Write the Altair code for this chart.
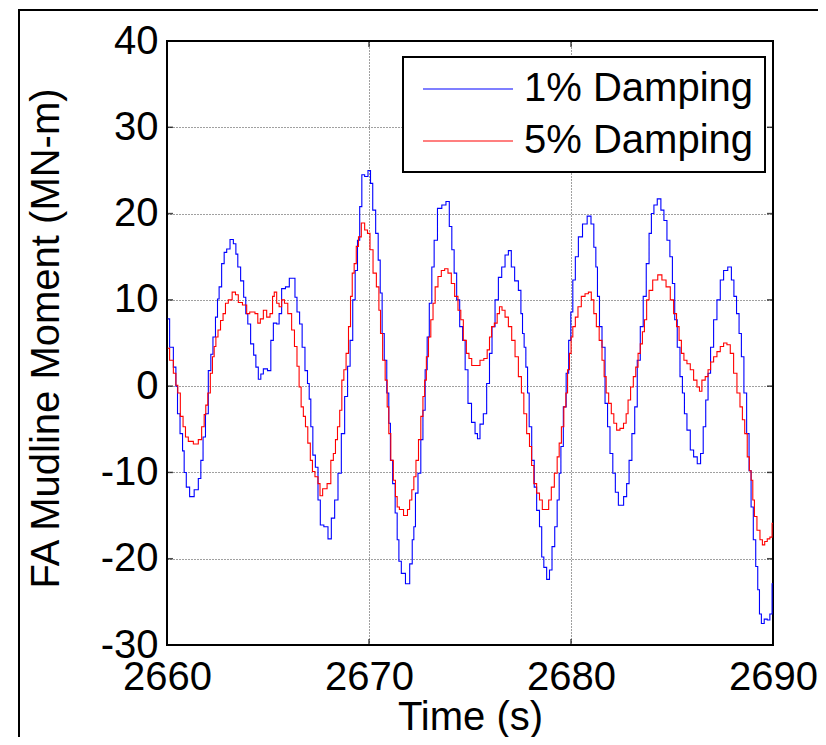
import altair as alt
import pandas as pd

# ---- data ----
t_1pct = [2660.03,2660.23,2660.40,2660.48,2660.56,2660.73,2660.81,2660.89,2661.02,2661.22,2661.47,2661.63,2661.72,2661.85,2661.96,2662.13,2662.21,2662.34,2662.46,2662.54,2662.62,2662.79,2662.87,2663.04,2663.20,2663.37,2663.45,2663.56,2663.73,2663.86,2663.94,2664.06,2664.22,2664.36,2664.44,2664.60,2664.69,2664.85,2665.10,2665.18,2665.35,2665.51,2665.59,2665.76,2665.97,2666.14,2666.30,2666.37,2666.50,2666.63,2666.75,2666.91,2667.00,2667.08,2667.16,2667.28,2667.41,2667.54,
          2667.64,2667.89,2668.05,2668.22,2668.38,2668.55,2668.71,2668.88,2669.00,2669.13,2669.26,2669.37,2669.49,2669.59,2669.70,2669.87,2670.03,2670.12,2670.25,2670.41,2670.50,2670.61,2670.69,2670.82,2670.94,2671.02,2671.10,2671.24,2671.35,2671.44,2671.52,2671.68,2671.93,2672.10,2672.18,2672.26,2672.34,2672.51,2672.62,2672.72,2672.84,2672.92,2673.05,2673.17,2673.28,2673.50,2673.71,2673.91,2674.04,2674.16,2674.27,2674.41,2674.57,2674.70,2674.82,2674.98,
          2675.17,2675.33,2675.41,2675.58,2675.74,2675.91,2676.02,2676.16,2676.32,2676.49,2676.65,2676.82,2676.98,2677.11,2677.31,2677.48,2677.56,2677.64,2677.72,2677.81,2677.89,2677.97,2678.14,2678.22,2678.38,2678.50,2678.60,2678.71,2678.88,2678.99,2679.13,2679.26,2679.37,2679.46,2679.54,2679.70,2679.82,2679.95,2680.03,2680.15,2680.28,2680.45,2680.69,2680.91,2681.07,2681.19,2681.27,2681.35,2681.47,2681.60,2681.77,2681.85,2682.01,2682.13,2682.26,2682.43,
          2682.52,2682.69,2682.82,2682.93,2683.10,2683.21,2683.35,2683.51,2683.64,2683.81,2683.92,2684.04,2684.17,2684.37,2684.53,2684.67,2684.83,2684.96,2685.08,2685.19,2685.33,2685.46,2685.57,2685.66,2685.82,2685.99,2686.15,2686.35,2686.48,2686.61,2686.73,2686.84,2686.98,2687.14,2687.31,2687.47,2687.64,2687.88,2688.00,2688.13,2688.26,2688.38,2688.49,2688.63,2688.76,2688.87,2688.96,2689.09,2689.20,2689.29,2689.37,2689.48,2689.65,2689.78,2689.91,2690.00]
v_1pct = [7.8,4.5,2.2,0.0,-3.2,-5.5,-7.5,-10.0,-11.7,-12.8,-12.0,-10.7,-8.6,-5.9,-3.2,1.8,3.7,5.7,8.0,10.1,11.5,14.2,15.5,15.9,17.0,16.5,15.3,13.8,12.2,10.3,8.4,7.2,4.9,3.6,2.2,0.8,1.4,2.0,1.8,5.3,7.3,7.2,8.4,11.3,11.5,12.5,12.5,10.3,8.6,7.2,4.5,1.8,0.3,-1.5,-4.7,-8.0,-9.4,-13.2,
          -16.1,-16.3,-17.7,-15.3,-13.2,-10.1,-5.5,-1.2,2.3,5.3,10.0,13.4,16.9,20.8,24.5,24.3,25.0,23.5,20.4,17.7,14.6,10.8,6.1,3.0,-0.8,-4.3,-8.6,-11.3,-14.7,-17.8,-20.3,-21.7,-22.9,-20.6,-17.8,-16.3,-12.4,-10.1,-6.2,-2.8,1.9,5.7,9.6,13.8,16.9,20.6,21.0,21.4,18.5,15.8,13.1,10.0,6.9,5.3,1.9,-2.0,
          -4.2,-5.5,-6.1,-4.4,-3.2,0.3,3.8,6.9,10.0,12.6,13.8,15.2,15.7,13.8,12.2,11.1,8.4,6.1,4.5,2.2,-0.8,-4.7,-8.6,-11.7,-14.4,-16.3,-19.8,-21.0,-22.4,-21.3,-18.6,-16.3,-13.2,-10.1,-7.0,-2.4,1.5,5.3,8.6,12.3,15.0,17.3,18.8,19.7,18.8,16.1,13.8,10.4,6.9,4.5,-2.0,-4.7,-7.8,-10.1,-12.3,-13.8,
          -13.8,-12.8,-11.3,-8.6,-5.5,-2.4,3.0,6.9,10.4,14.2,17.7,20.0,21.0,21.7,20.4,19.2,16.9,15.0,11.9,7.7,4.5,1.1,-0.8,-3.2,-5.1,-7.4,-8.2,-9.0,-7.8,-4.7,-1.6,1.5,4.5,7.7,10.0,12.3,13.4,13.8,12.3,10.4,8.4,6.1,3.4,-0.8,-5.5,-9.8,-14.0,-17.8,-20.9,-23.6,-26.4,-27.5,-27.0,-27.1,-26.4,-22.9]

t_5pct = [2660.03,2660.23,2660.40,2660.48,2660.59,2660.73,2660.86,2660.97,2661.14,2661.47,2661.63,2661.80,2661.88,2661.96,2662.08,2662.21,2662.29,2662.38,2662.46,2662.59,2662.71,2662.84,2662.95,2663.12,2663.33,2663.45,2663.61,2663.86,2664.03,2664.16,2664.27,2664.44,2664.55,2664.69,2664.85,2665.02,2665.18,2665.27,2665.35,2665.51,2665.59,2665.76,2665.87,2666.09,2666.25,2666.37,2666.50,2666.58,2666.70,2666.80,2666.91,2667.03,2667.16,2667.24,2667.41,2667.54,
          2667.61,2667.80,2668.05,2668.17,2668.30,2668.38,2668.50,2668.60,2668.71,2668.80,2668.93,2669.04,2669.13,2669.21,2669.32,2669.42,2669.54,2669.70,2669.87,2669.98,2670.12,2670.28,2670.45,2670.53,2670.61,2670.74,2670.86,2670.94,2671.02,2671.14,2671.27,2671.35,2671.44,2671.57,2671.85,2671.96,2672.06,2672.18,2672.26,2672.39,2672.51,2672.62,2672.72,2672.79,2672.89,2673.00,2673.12,2673.22,2673.33,2673.50,2673.66,2673.83,2673.99,2674.16,2674.32,2674.49,2674.60,2674.74,2674.90,
          2675.00,2675.17,2675.41,2675.58,2675.79,2675.91,2676.02,2676.12,2676.29,2676.40,2676.52,2676.65,2676.82,2676.98,2677.15,2677.31,2677.48,2677.61,2677.72,2677.89,2678.00,2678.10,2678.22,2678.38,2678.50,2678.66,2678.83,2678.96,2679.09,2679.26,2679.37,2679.46,2679.59,2679.70,2679.79,2679.87,2679.98,2680.03,2680.15,2680.28,2680.41,2680.61,2680.78,2680.94,2681.07,2681.19,2681.32,2681.47,2681.60,2681.68,2681.80,2681.93,2682.06,2682.18,2682.34,2682.51,
          2682.69,2682.77,2682.88,2683.02,2683.15,2683.26,2683.38,2683.48,2683.59,2683.68,2683.81,2683.92,2684.17,2684.42,2684.58,2684.83,2685.00,2685.16,2685.29,2685.41,2685.52,2685.66,2685.82,2685.99,2686.15,2686.32,2686.40,2686.56,2686.73,2686.84,2686.98,2687.14,2687.31,2687.47,2687.64,2687.80,2687.97,2688.13,2688.30,2688.43,2688.54,2688.66,2688.79,2688.87,2688.96,2689.04,2689.12,2689.29,2689.42,2689.53,2689.65,2689.78,2689.91,2690.00]
v_5pct = [4.4,3.0,1.5,0.1,-0.8,-3.5,-4.7,-5.9,-6.4,-6.7,-6.2,-4.7,-3.3,-2.2,-0.8,1.5,3.4,4.6,5.7,6.5,7.6,8.4,9.6,10.0,10.9,10.6,9.7,9.4,8.4,8.6,8.6,8.4,7.3,7.8,8.8,8.0,8.4,10.4,10.9,9.6,9.2,10.0,9.6,8.4,6.5,4.6,2.3,-0.1,-2.4,-3.5,-4.7,-6.6,-8.6,-9.9,-10.5,-11.3,
          -12.7,-11.9,-11.3,-8.6,-7.8,-6.2,-4.7,-2.8,0.7,1.9,3.8,6.9,10.4,13.1,14.2,16.2,17.3,18.9,18.1,17.7,15.8,13.1,11.5,8.8,6.1,3.0,0.7,-2.4,-5.5,-8.6,-10.9,-12.8,-14.0,-14.3,-15.0,-14.3,-13.2,-12.0,-10.5,-8.6,-6.2,-3.5,-1.2,0.7,3.4,5.7,7.7,9.6,11.5,12.7,13.4,13.6,13.1,11.9,10.4,8.8,7.7,5.3,3.8,
          3.2,2.4,2.4,3.0,3.2,4.2,5.7,6.9,7.3,8.4,9.2,8.8,8.0,6.9,5.3,3.4,1.1,-0.8,-3.2,-5.5,-7.0,-9.2,-11.3,-12.4,-13.2,-14.3,-14.3,-13.2,-11.7,-10.1,-8.2,-6.6,-4.7,-2.4,-0.8,1.9,3.8,5.7,6.9,8.0,9.2,10.4,10.7,10.9,10.0,8.4,6.9,5.3,3.0,1.1,-0.8,-2.0,-3.2,-4.3,-5.1,-4.9,
          -4.3,-3.2,-1.6,-0.1,1.1,2.2,3.8,4.9,6.3,7.7,10.0,11.1,12.3,12.9,12.3,11.5,10.0,8.4,6.9,5.3,3.8,3.0,2.6,1.9,0.7,-0.1,-0.6,0.7,1.1,1.9,2.8,3.4,4.0,4.6,5.0,4.8,3.8,1.5,-0.8,-2.4,-3.9,-5.5,-8.2,-9.8,-10.9,-13.2,-15.1,-16.7,-17.8,-18.4,-18.0,-17.7,-17.5,-15.9]

series_names = ["1% Damping", "5% Damping"]
series_colors = ["#0000ff", "#ff0000"]
x_ticks = [2660, 2670, 2680, 2690]
y_ticks = [-30, -20, -10, 0, 10, 20, 30, 40]

df = pd.concat([
    pd.DataFrame({"t": t_1pct, "v": v_1pct, "s": series_names[0], "o": range(len(t_1pct))}),
    pd.DataFrame({"t": t_5pct, "v": v_5pct, "s": series_names[1], "o": range(len(t_5pct))}),
])
df_xt = pd.DataFrame({"t": x_ticks})
df_yt = pd.DataFrame({"v": y_ticks})

FONT = "Liberation Sans"
W, H = 606, 604
xscale = alt.Scale(domain=[2660, 2690], nice=False, zero=False)
yscale = alt.Scale(domain=[-30, 40], nice=False, zero=False)

lines = alt.Chart(df).mark_line(strokeWidth=1.1, interpolate="step", clip=True).encode(
    x=alt.X("t:Q", scale=xscale,
            axis=alt.Axis(values=x_ticks, labelExpr="'' + datum.value", title="Time (s)",
                          titleX=W / 2, titleY=84, titleBaseline="alphabetic",
                          labelBaseline="alphabetic", labelPadding=44, labelFlush=False)),
    y=alt.Y("v:Q", scale=yscale,
            axis=alt.Axis(values=y_ticks, labelExpr="'' + datum.value", title="FA Mudline Moment (MN-m)",
                          titleX=-109, titleY=297, titleBaseline="alphabetic",
                          titleAngle=270, labelPadding=9, labelFlush=False)),
    color=alt.Color("s:N", scale=alt.Scale(domain=series_names, range=series_colors),
                    legend=alt.Legend(title=None, orient="none", legendX=236, legendY=16,
                                      direction="vertical", symbolType="M-2.25,0H2.25",
                                      symbolSize=1600, symbolStrokeWidth=1.2,
                                      symbolOffset=33, labelOffset=35,
                                      labelFontSize=40, labelFont=FONT, labelColor="black",
                                      labelLimit=500, padding=11, rowPadding=11,
                                      strokeColor="black", fillColor="white")),
    order="o:Q",
)

tick_style = dict(color="black", thickness=1.5, size=6)
ticks_left = alt.Chart(df_yt).mark_tick(orient="horizontal", **tick_style).encode(
    y=alt.Y("v:Q", scale=yscale), x=alt.value(3))
ticks_right = alt.Chart(df_yt).mark_tick(orient="horizontal", **tick_style).encode(
    y=alt.Y("v:Q", scale=yscale), x=alt.value(W - 3))
ticks_bottom = alt.Chart(df_xt).mark_tick(orient="vertical", **tick_style).encode(
    x=alt.X("t:Q", scale=xscale), y=alt.value(H - 3))
ticks_top = alt.Chart(df_xt).mark_tick(orient="vertical", **tick_style).encode(
    x=alt.X("t:Q", scale=xscale), y=alt.value(3))

frame = alt.Chart(pd.DataFrame({"a": [0]})).mark_rect(
    fill=None, stroke="black", strokeWidth=2
).encode(x=alt.value(-148), x2=alt.value(W + 200), y=alt.value(-31), y2=alt.value(H + 200))

chart = alt.layer(frame, ticks_left, ticks_right, ticks_bottom, ticks_top, lines).properties(
    width=W, height=H,
    autosize=alt.AutoSizeParams(type="none"),
    padding={"left": 159, "top": 33, "right": 45, "bottom": 92},
).configure_view(stroke="black", strokeWidth=2).configure_axis(
    domain=False, ticks=False, grid=True, gridColor="#000000", gridDash=[1, 2],
    gridWidth=1, gridOpacity=0.75,
    labelFont=FONT, labelFontSize=40, labelColor="black",
    titleFont=FONT, titleFontSize=40, titleColor="black", titleFontWeight="normal",
).configure_legend(strokeWidth=2)

chart.save("out.html", embed_options={"renderer": "svg", "actions": False})
